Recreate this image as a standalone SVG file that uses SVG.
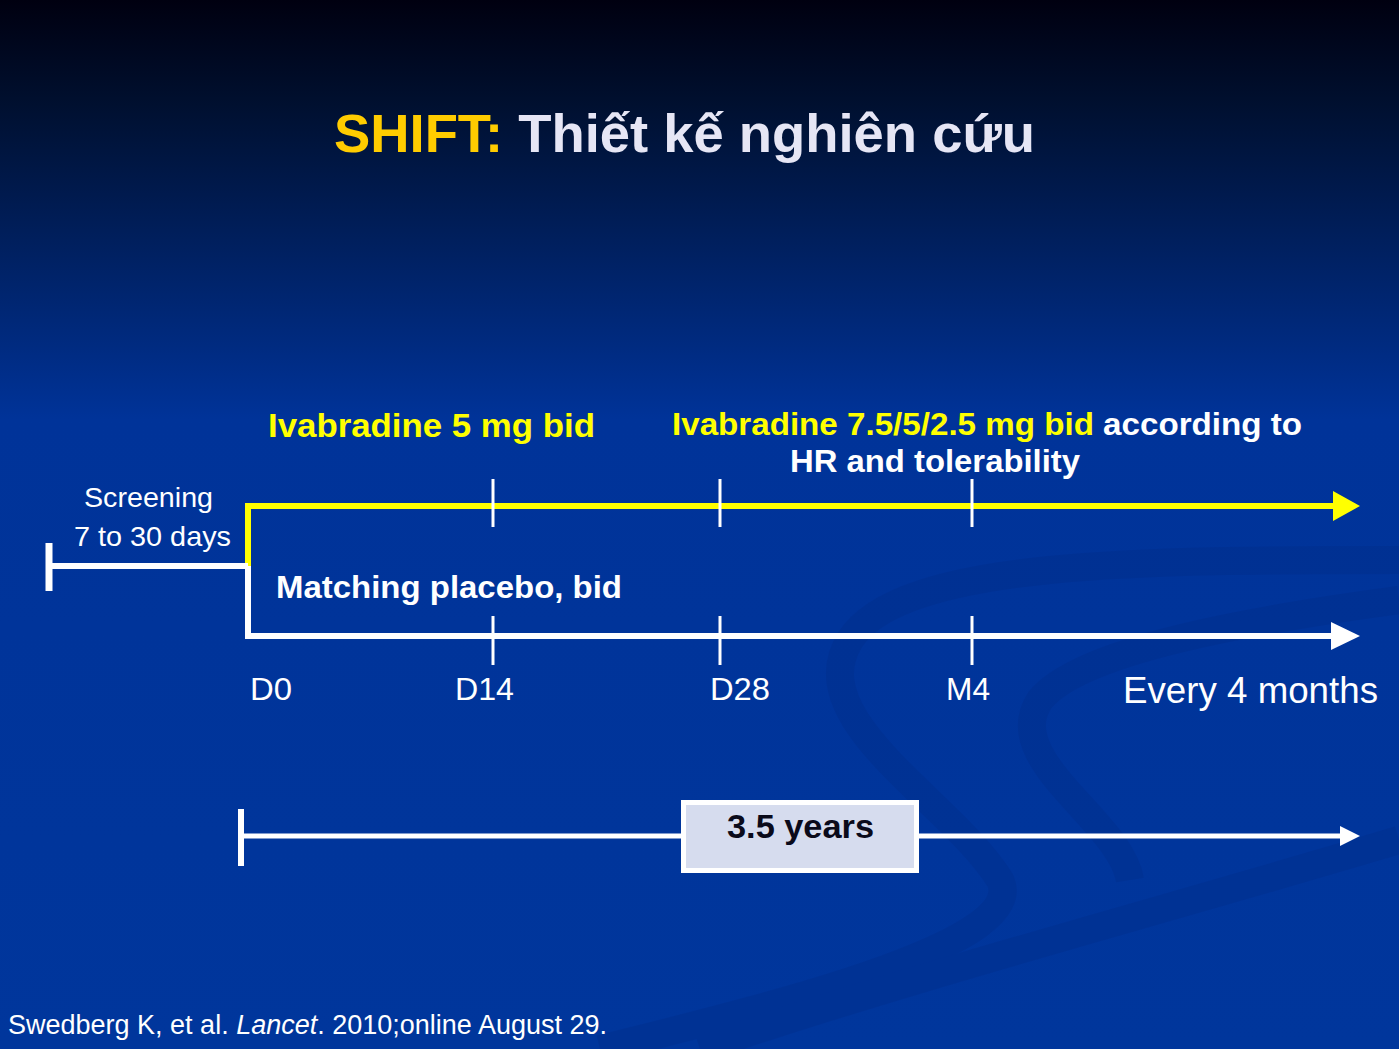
<svg xmlns="http://www.w3.org/2000/svg" width="1399" height="1049" viewBox="0 0 1399 1049">
<defs>
<linearGradient id="bg" x1="0" y1="0" x2="0" y2="1">
<stop offset="0" stop-color="#000010"/>
<stop offset="0.1" stop-color="#001030"/>
<stop offset="0.4" stop-color="#003399"/>
<stop offset="1" stop-color="#00369c"/>
</linearGradient>
</defs>
<style>
.w{fill:#fff;font-family:"Liberation Sans",Arial,sans-serif}
.y{fill:#ffff00;font-family:"Liberation Sans",Arial,sans-serif;font-weight:bold}
.b{font-weight:bold}
.ln{stroke:#fff;stroke-width:6;fill:none}
.yl{stroke:#ffff00;stroke-width:6;fill:none}
.tk{stroke:#fff;stroke-width:3}
</style>
<rect width="1399" height="1049" fill="url(#bg)"/>
<g opacity="0.25" fill="none" stroke="#002a80" stroke-width="28">
<path d="M1399 560 C1150 560 900 560 850 640 C800 720 950 800 1000 880 C1030 940 800 1000 600 1049"/>
<path d="M1399 600 C1250 620 1080 650 1040 700 C1000 760 1120 820 1130 880"/>
<path d="M1399 840 C1200 900 900 980 700 1049"/>
</g>
<text x="334" y="152" font-family="Liberation Sans,Arial,sans-serif" font-weight="bold" font-size="53" textLength="701" lengthAdjust="spacingAndGlyphs"><tspan fill="#ffcc00">SHIFT: </tspan><tspan fill="#e6e6f5">Thiết kế nghiên cứu</tspan></text>
<g id="connectors">
<line class="yl" x1="248" y1="506" x2="1336" y2="506"/>
<polygon points="1333,491 1360,506 1333,521" fill="#ffff00"/>
<line class="yl" x1="248" y1="503" x2="248" y2="566"/>
<line class="ln" x1="248" y1="566" x2="248" y2="639"/>
<line class="ln" x1="48" y1="566" x2="248" y2="566"/>
<line stroke="#fff" stroke-width="7" x1="49" y1="543" x2="49" y2="591"/>
<line class="ln" x1="245" y1="636" x2="1336" y2="636"/>
<polygon points="1331,622 1360,636 1331,650" fill="#fff"/>
<line class="tk" x1="493" y1="479" x2="493" y2="527"/>
<line class="tk" x1="720" y1="479" x2="720" y2="527"/>
<line class="tk" x1="972" y1="479" x2="972" y2="527"/>
<line class="tk" x1="493" y1="616" x2="493" y2="665"/>
<line class="tk" x1="720" y1="616" x2="720" y2="665"/>
<line class="tk" x1="972" y1="616" x2="972" y2="665"/>
<line stroke="#fff" stroke-width="5" x1="240" y1="836" x2="1345" y2="836"/>
<polygon points="1340,826 1360,836 1340,846" fill="#fff"/>
<line stroke="#fff" stroke-width="6" x1="241" y1="809" x2="241" y2="866"/>
</g>
<g id="labels">
<text class="y" x="268" y="437" font-size="34" textLength="327" lengthAdjust="spacingAndGlyphs">Ivabradine 5 mg bid</text>
<text class="y" x="672" y="435" font-size="32" textLength="630" lengthAdjust="spacingAndGlyphs">Ivabradine 7.5/5/2.5 mg bid <tspan fill="#fff">according to</tspan></text>
<text class="w b" x="790" y="472" font-size="32" textLength="290" lengthAdjust="spacingAndGlyphs">HR and tolerability</text>
<text class="w" x="84" y="507" font-size="28" textLength="129" lengthAdjust="spacingAndGlyphs">Screening</text>
<text class="w" x="74" y="546" font-size="28" textLength="157" lengthAdjust="spacingAndGlyphs">7 to 30 days</text>
<text class="w b" x="276" y="598" font-size="32" textLength="346" lengthAdjust="spacingAndGlyphs">Matching placebo, bid</text>
<text class="w" x="250" y="700" font-size="31" textLength="42" lengthAdjust="spacingAndGlyphs">D0</text>
<text class="w" x="455" y="700" font-size="31" textLength="59" lengthAdjust="spacingAndGlyphs">D14</text>
<text class="w" x="710" y="700" font-size="31" textLength="60" lengthAdjust="spacingAndGlyphs">D28</text>
<text class="w" x="946" y="700" font-size="31" textLength="44" lengthAdjust="spacingAndGlyphs">M4</text>
<text class="w" x="1123" y="703" font-size="37" textLength="255" lengthAdjust="spacingAndGlyphs">Every 4 months</text>
</g>
<g id="duration">
<rect x="683.5" y="802.5" width="233" height="68" fill="#d6dcee" stroke="#fff" stroke-width="5"/>
<text x="727" y="838" font-family="Liberation Sans,Arial,sans-serif" font-weight="bold" font-size="34" fill="#0a0a1a" textLength="147" lengthAdjust="spacingAndGlyphs">3.5 years</text>
</g>
<text class="w" x="8" y="1034" font-size="27" textLength="599" lengthAdjust="spacingAndGlyphs">Swedberg K, et al. <tspan font-style="italic">Lancet</tspan>. 2010;online August 29.</text>
</svg>
